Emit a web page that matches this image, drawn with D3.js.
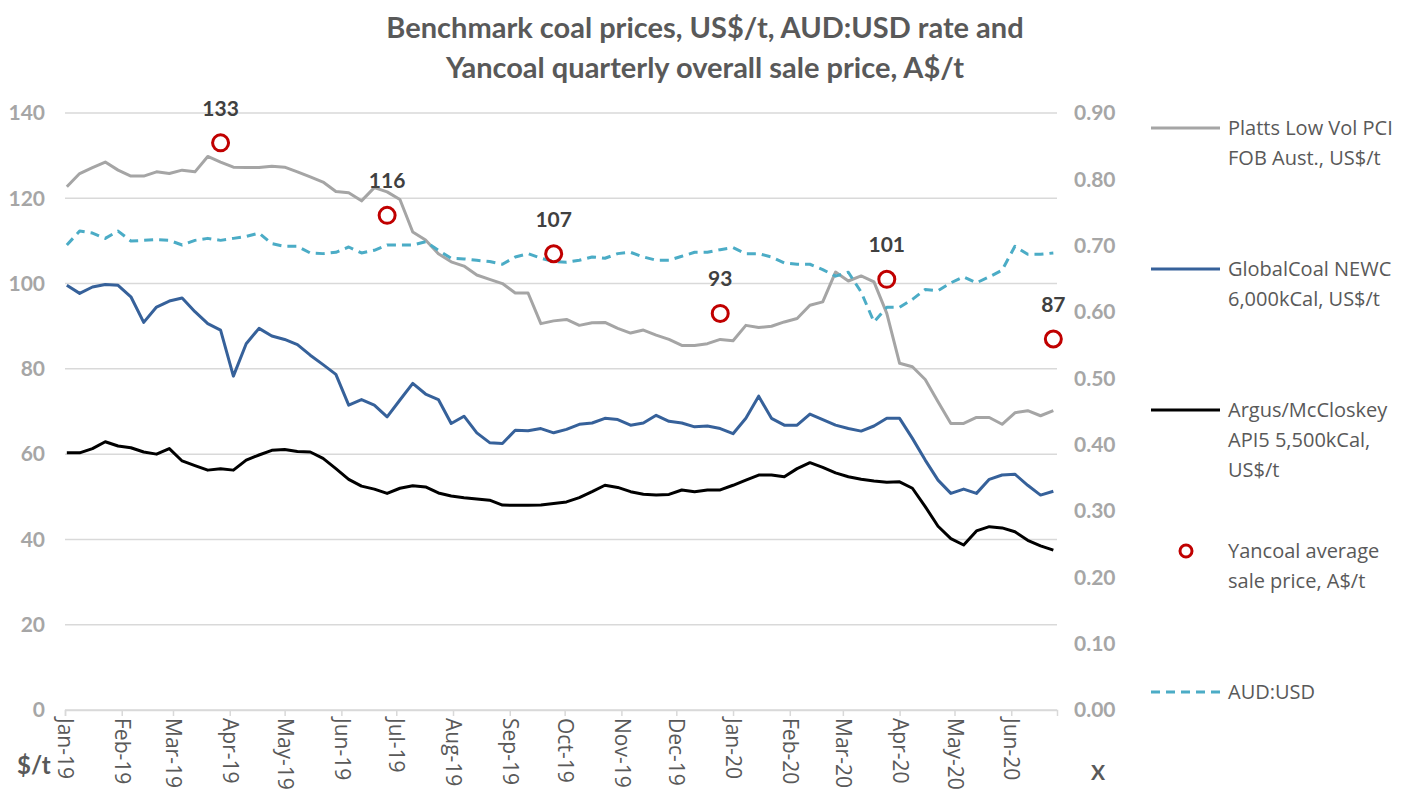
<!DOCTYPE html>
<html>
<head>
<meta charset="utf-8">
<script src="https://cdn.jsdelivr.net/npm/d3@7"></script>
<style>
  body { margin: 0; background: #fff; }
  svg { font-family: Lato, "Open Sans", sans-serif; }
</style>
</head>
<body>
<svg id="chart" width="1402" height="798"></svg>
<script>
// Weekly series, Jan-19 to Jun-20
const firstWeek = new Date(2019, 0, 2);

const plattsPCI = [
  122.7, 125.8, 127.2, 128.5, 126.6, 125.2, 125.2, 126.2, 125.8, 126.6, 126.2, 129.8, 128.5, 127.3,
  127.2, 127.2, 127.5, 127.3, 126.2, 125.0, 123.8, 121.6, 121.3, 119.4, 122.5, 121.5, 119.7, 112.1,
  110.2, 107.0, 105.1, 104.1, 102.0, 101.0, 100.0, 97.8, 97.8, 90.6, 91.25, 91.6, 90.2, 90.8,
  90.9, 89.5, 88.4, 89.1, 87.9, 86.9, 85.5, 85.5, 85.9, 86.9, 86.6, 90.2, 89.7, 90.0,
  91.0, 91.8, 94.9, 95.7, 102.7, 100.6, 101.8, 100.4, 93.0, 81.3, 80.5, 77.5, 72.3, 67.2,
  67.2, 68.6, 68.6, 67.0, 69.7, 70.2, 69.0, 70.2
];

const globalCoalNEWC = [
  99.6, 97.7, 99.2, 99.8, 99.6, 96.9, 90.9, 94.5, 95.9, 96.6, 93.4, 90.6, 89.1, 78.3,
  85.9, 89.5, 87.7, 86.9, 85.7, 83.2, 81.0, 78.7, 71.5, 72.8, 71.5, 68.75, 72.7, 76.6,
  74.1, 72.8, 67.2, 68.9, 65.0, 62.7, 62.5, 65.6, 65.5, 66.0, 65.0, 65.8, 67.0, 67.3,
  68.4, 68.1, 66.8, 67.3, 69.1, 67.7, 67.3, 66.4, 66.6, 66.0, 64.8, 68.4, 73.6, 68.4,
  66.8, 66.8, 69.4, 68.1, 66.8, 66.0, 65.4, 66.6, 68.4, 68.4, 63.7, 58.6, 53.9, 50.8,
  51.8, 50.8, 54.1, 55.1, 55.3, 52.7, 50.4, 51.3
];

const argusAPI5 = [
  60.3, 60.3, 61.3, 62.9, 61.9, 61.5, 60.5, 60.0, 61.3, 58.4, 57.3, 56.25, 56.6, 56.25,
  58.6, 59.8, 60.9, 61.1, 60.6, 60.5, 59.0, 56.6, 54.1, 52.5, 51.8, 50.8, 52.0, 52.6,
  52.3, 50.9, 50.2, 49.8, 49.5, 49.2, 48.05, 48.0, 48.0, 48.05, 48.4, 48.8, 49.8, 51.2,
  52.7, 52.2, 51.2, 50.6, 50.4, 50.55, 51.6, 51.2, 51.6, 51.6, 52.7, 53.9, 55.1, 55.1,
  54.7, 56.6, 58.0, 56.9, 55.6, 54.7, 54.1, 53.7, 53.4, 53.5, 52.0, 47.7, 43.1, 40.2,
  38.7, 42.0, 43.0, 42.7, 41.8, 39.8, 38.5, 37.5
];

const audUsd = [
  0.701, 0.722, 0.719, 0.711, 0.722, 0.707, 0.708, 0.709, 0.708, 0.701, 0.708, 0.711, 0.708, 0.711,
  0.714, 0.719, 0.703, 0.699, 0.699, 0.689, 0.688, 0.690, 0.698, 0.689, 0.693, 0.701, 0.701, 0.701,
  0.706, 0.693, 0.681, 0.680, 0.678, 0.676, 0.672, 0.683, 0.688, 0.681, 0.676, 0.675, 0.678, 0.683,
  0.681, 0.688, 0.690, 0.683, 0.678, 0.678, 0.684, 0.690, 0.690, 0.694, 0.697, 0.688, 0.688, 0.683,
  0.674, 0.672, 0.672, 0.664, 0.654, 0.660, 0.630, 0.585, 0.607, 0.607, 0.619, 0.634, 0.632, 0.644,
  0.653, 0.644, 0.653, 0.663, 0.699, 0.687, 0.687, 0.689
];

// Yancoal quarterly sale price, A$/t
const quarterDates = ['2019-03-27', '2019-06-26', '2019-09-25', '2019-12-25', '2020-03-25', '2020-06-24'];
const yancoalPrice = [133, 116, 107, 93, 101, 87];

const leftTicks = [0, 20, 40, 60, 80, 100, 120, 140];
const rightTicks = [0, 0.1, 0.2, 0.3, 0.4, 0.5, 0.6, 0.7, 0.8, 0.9];

const titleLines = ['Benchmark coal prices, US$/t, AUD:USD rate and', 'Yancoal quarterly overall sale price, A$/t'];

const legendItems = [
  { key: 'pci', lines: ['Platts Low Vol PCI', 'FOB Aust., US$/t'] },
  { key: 'newc', lines: ['GlobalCoal NEWC', '6,000kCal, US$/t'] },
  { key: 'api5', lines: ['Argus/McCloskey', 'API5 5,500kCal,', 'US$/t'] },
  { key: 'yan', lines: ['Yancoal average', 'sale price, A$/t'] },
  { key: 'aud', lines: ['AUD:USD'] }
];

const svg = d3.select('#chart');

const plotLeft = 65, plotRight = 1057, plotTop = 113, plotBottom = 710;

const weeks = plattsPCI.map((d, i) => d3.timeDay.offset(firstWeek, 7 * i));

const xScale = d3.scaleTime()
  .domain([new Date(2019, 0, 1), new Date(2020, 5, 26)])
  .range([plotLeft, plotRight]);

const yLeft = d3.scaleLinear().domain([0, 140]).range([plotBottom, plotTop]);
const yRight = d3.scaleLinear().domain([0, 0.9]).range([plotBottom, plotTop]);

const styles = {
  pci: { color: '#a5a5a5', width: 3, dash: null },
  newc: { color: '#36619a', width: 3, dash: null },
  api5: { color: '#000000', width: 3, dash: null },
  aud: { color: '#4bacc6', width: 3, dash: '9,6' }
};

// Title
svg.append('g').selectAll('text')
  .data(titleLines)
  .enter().append('text')
  .attr('x', 705)
  .attr('y', (d, i) => 38 + i * 40)
  .attr('text-anchor', 'middle')
  .attr('font-size', 29)
  .attr('font-weight', 'bold')
  .attr('fill', '#595959')
  .text(d => d);

// Gridlines
svg.append('g').selectAll('line')
  .data(leftTicks)
  .enter().append('line')
  .attr('x1', plotLeft).attr('x2', plotRight)
  .attr('y1', d => yLeft(d)).attr('y2', d => yLeft(d))
  .attr('stroke', '#d9d9d9')
  .attr('stroke-width', 1.5);

// Left axis
const leftAxis = svg.append('g')
  .attr('transform', `translate(${plotLeft - 20}, 0)`)
  .call(d3.axisLeft(yLeft).tickValues(leftTicks).tickSize(0).tickPadding(0));
leftAxis.select('.domain').remove();
leftAxis.selectAll('text')
  .attr('font-family', 'Lato, sans-serif')
  .attr('font-size', 21)
  .attr('font-weight', 'bold')
  .attr('fill', '#a6a6a6');

// Right axis
const rightAxis = svg.append('g')
  .attr('transform', `translate(${plotRight + 17}, 0)`)
  .call(d3.axisRight(yRight).tickValues(rightTicks).tickFormat(d3.format('.2f')).tickSize(0).tickPadding(0));
rightAxis.select('.domain').remove();
rightAxis.selectAll('text')
  .attr('font-family', 'Lato, sans-serif')
  .attr('font-size', 21)
  .attr('font-weight', 'bold')
  .attr('fill', '#a6a6a6');

// Bottom axis: month ticks, rotated labels
const months = d3.timeMonth.range(new Date(2019, 0, 1), new Date(2020, 6, 1));
const xAxis = svg.append('g')
  .attr('transform', `translate(0, ${plotBottom})`)
  .call(d3.axisBottom(xScale).tickValues(months).tickFormat(d3.timeFormat('%b-%y')).tickSize(6).tickPadding(8));
xAxis.select('.domain')
  .attr('stroke', '#d9d9d9')
  .attr('stroke-width', 1.5);
xAxis.selectAll('.tick line')
  .attr('stroke', '#d9d9d9')
  .attr('stroke-width', 1.5);
xAxis.selectAll('.tick text')
  .attr('font-family', '"Open Sans", sans-serif')
  .attr('font-size', 21)
  .attr('fill', '#595959')
  .attr('text-anchor', 'start')
  .attr('y', 0)
  .attr('dy', '0.35em')
  .attr('transform', 'translate(0, 8) rotate(90)');

// Series lines
const series = [
  { key: 'pci', values: plattsPCI, scale: yLeft },
  { key: 'newc', values: globalCoalNEWC, scale: yLeft },
  { key: 'api5', values: argusAPI5, scale: yLeft },
  { key: 'aud', values: audUsd, scale: yRight }
];

series.forEach(s => {
  const line = d3.line()
    .x((d, i) => xScale(weeks[i]))
    .y(d => s.scale(d));
  svg.append('path')
    .datum(s.values)
    .attr('d', line)
    .attr('fill', 'none')
    .attr('stroke', styles[s.key].color)
    .attr('stroke-width', styles[s.key].width)
    .attr('stroke-linejoin', 'round')
    .attr('stroke-dasharray', styles[s.key].dash);
});

// Yancoal points and labels
const parseDate = d3.timeParse('%Y-%m-%d');
const yan = quarterDates.map((d, i) => ({ date: parseDate(d), value: yancoalPrice[i] }));

svg.append('g').selectAll('circle')
  .data(yan)
  .enter().append('circle')
  .attr('cx', d => xScale(d.date))
  .attr('cy', d => yLeft(d.value))
  .attr('r', 8)
  .attr('fill', 'none')
  .attr('stroke', '#c00000')
  .attr('stroke-width', 3);

svg.append('g').selectAll('text')
  .data(yan)
  .enter().append('text')
  .attr('x', d => xScale(d.date))
  .attr('y', d => yLeft(d.value) - 27)
  .attr('text-anchor', 'middle')
  .attr('font-size', 21)
  .attr('font-weight', 'bold')
  .attr('fill', '#404040')
  .text(d => d.value);

// Axis unit labels
svg.append('text')
  .attr('x', 17).attr('y', 774)
  .attr('font-size', 24)
  .attr('font-weight', 'bold')
  .attr('fill', '#595959')
  .text('$/t');

svg.append('text')
  .attr('x', 1091).attr('y', 780)
  .attr('font-size', 21)
  .attr('font-weight', 'bold')
  .attr('fill', '#595959')
  .text('X');

// Legend
const legendY = [128, 269, 410, 551, 692];
const legend = svg.append('g');
legendItems.forEach((item, i) => {
  const y = legendY[i];
  if (item.key === 'yan') {
    legend.append('circle')
      .attr('cx', 1186).attr('cy', y)
      .attr('r', 6)
      .attr('fill', 'none')
      .attr('stroke', '#c00000')
      .attr('stroke-width', 3);
  } else {
    legend.append('line')
      .attr('x1', 1151).attr('x2', 1220)
      .attr('y1', y).attr('y2', y)
      .attr('stroke', styles[item.key].color)
      .attr('stroke-width', 3)
      .attr('stroke-dasharray', styles[item.key].dash);
  }
  legend.append('g').selectAll('text')
    .data(item.lines)
    .enter().append('text')
    .attr('x', 1228)
    .attr('y', (d, j) => y + j * 30)
    .attr('dy', '0.35em')
    .attr('font-family', '"Open Sans", sans-serif')
    .attr('font-size', 20)
    .attr('fill', '#595959')
    .text(d => d);
});
</script>
</body>
</html>
